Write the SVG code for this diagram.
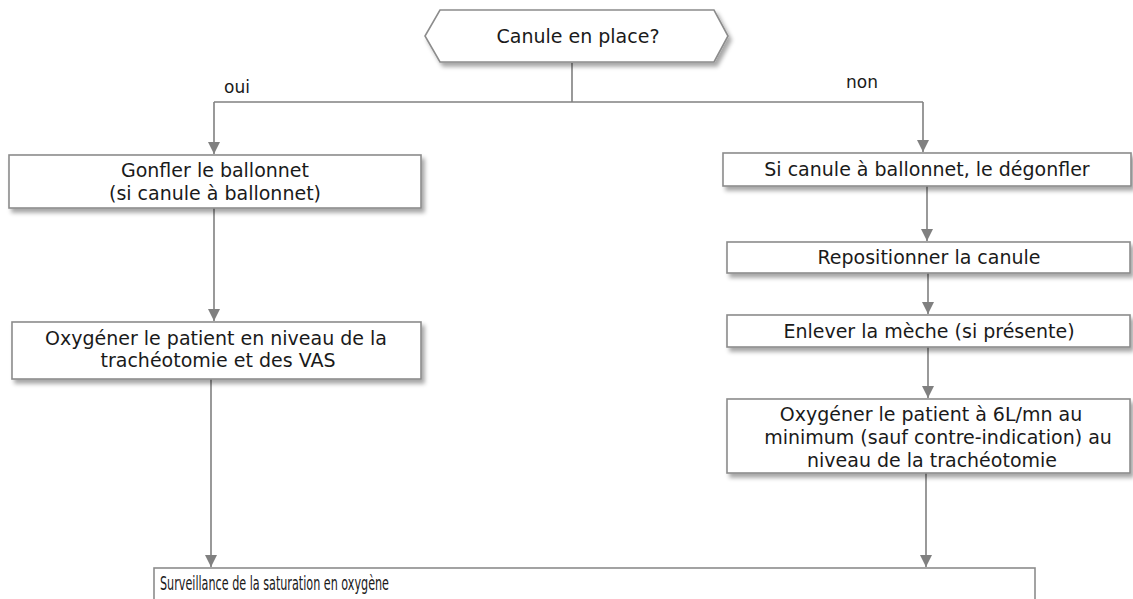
<svg xmlns="http://www.w3.org/2000/svg" width="1133" height="599" viewBox="0 0 1133 599">
<style>
.box{fill:#fff;stroke:#8c8c8c;stroke-width:1.6;filter:url(#sh)}
.t{font-family:"DejaVu Sans",Verdana,sans-serif;font-size:19px;fill:#1a1a1a;text-anchor:middle}
.lbl{font-family:"DejaVu Sans",Verdana,sans-serif;font-size:17px;fill:#1a1a1a;text-anchor:middle}
.c{fill:none;stroke:#808080;stroke-width:1.6}
</style>
<defs>
<filter id="sh" x="-5%" y="-20%" width="115%" height="160%">
<feDropShadow dx="3" dy="4" stdDeviation="2" flood-color="#000" flood-opacity="0.35"/>
</filter>
<marker id="ah" markerUnits="userSpaceOnUse" markerWidth="12" markerHeight="12" viewBox="0 0 12 12" refX="12" refY="6" orient="auto">
<path d="M0,0 L12,6 L0,12 z" fill="#808080"/>
</marker>
</defs>
<rect width="1133" height="599" fill="#fff"/>
<g id="connectors">
<path class="c" d="M572,63 V102"/>
<path class="c" d="M214,102 H923"/>
<path class="c" d="M214,102 V154" marker-end="url(#ah)"/>
<path class="c" d="M923,102 V152" marker-end="url(#ah)"/>
<path class="c" d="M214,208 V321" marker-end="url(#ah)"/>
<path class="c" d="M211,379 V567" marker-end="url(#ah)"/>
<path class="c" d="M927,186 V241" marker-end="url(#ah)"/>
<path class="c" d="M928,273 V314" marker-end="url(#ah)"/>
<path class="c" d="M928,347 V398" marker-end="url(#ah)"/>
<path class="c" d="M926,473 V567" marker-end="url(#ah)"/>
<text class="lbl" x="237" y="93">oui</text>
<text class="lbl" x="862" y="88">non</text>
</g>
<g id="decision">
<polygon class="box" points="440,10 714,10 728,36 714,62 440,62 425,36"/>
<text class="t" x="578" y="43">Canule en place?</text>
</g>
<g id="gonfler">
<rect class="box" x="9" y="155" width="412" height="53"/>
<text class="t" x="215" y="177">Gonfler le ballonnet</text>
<text class="t" x="215" y="200">(si canule à ballonnet)</text>
</g>
<g id="oxygener-vas">
<rect class="box" x="12" y="322" width="409" height="57"/>
<text class="t" x="216" y="345">Oxygéner le patient en niveau de la</text>
<text class="t" x="218" y="367">trachéotomie et des VAS</text>
</g>
<g id="degonfler">
<rect class="box" x="723" y="153" width="408" height="33"/>
<text class="t" x="927" y="176">Si canule à ballonnet, le dégonfler</text>
</g>
<g id="repositionner">
<rect class="box" x="727" y="242" width="403" height="31"/>
<text class="t" x="929" y="264">Repositionner la canule</text>
</g>
<g id="meche">
<rect class="box" x="727" y="315" width="403" height="32"/>
<text class="t" x="929" y="338">Enlever la mèche (si présente)</text>
</g>
<g id="oxygener-6l">
<rect class="box" x="727" y="399" width="403" height="74"/>
<text class="t" x="931" y="421">Oxygéner le patient à 6L/mn au</text>
<text class="t" x="938" y="444">minimum (sauf contre-indication) au</text>
<text class="t" x="932" y="467">niveau de la trachéotomie</text>
</g>
<g id="surveillance">
<rect x="154" y="568" width="881" height="40" fill="#fff" stroke="#8c8c8c" stroke-width="1.6"/>
<text x="160" y="590" font-family="'DejaVu Sans Condensed','DejaVu Sans',sans-serif" font-size="20" fill="#1a1a1a" textLength="229" lengthAdjust="spacingAndGlyphs">Surveillance de la saturation en oxygène</text>
</g>
</svg>
